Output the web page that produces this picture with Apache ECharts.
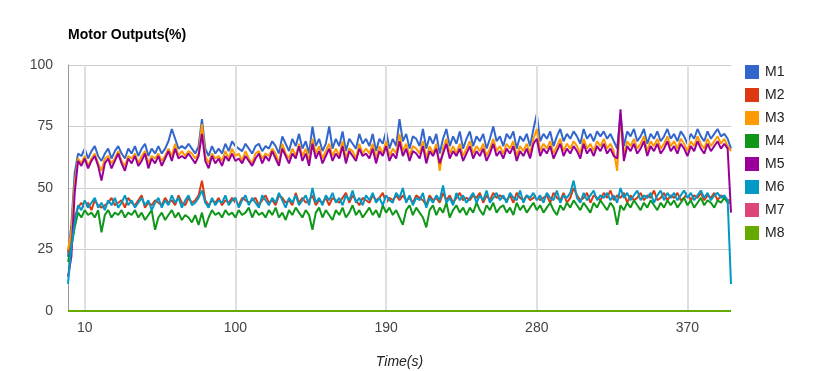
<!DOCTYPE html>
<html><head><meta charset="utf-8">
<script src="https://cdn.jsdelivr.net/npm/echarts@6/dist/echarts.min.js"></script>
<style>html,body{margin:0;padding:0;background:#fff}#c{width:826px;height:371px}</style>
</head><body><div id="c"></div>
<script>
const times = [0,2,4,6,8,10,12,14,16,18, 20,22,24,26,28,30,32,34,36,38, 40,42,44,46,48,50,52,54,56,58, 60,62,64,66,68,70,72,74,76,78, 80,82,84,86,88,90,92,94,96,98, 100,102,104,106,108,110,112,114,116,118, 120,122,124,126,128,130,132,134,136,138, 140,142,144,146,148,150,152,154,156,158, 160,162,164,166,168,170,172,174,176,178, 180,182,184,186,188,190,192,194,196,198, 200,202,204,206,208,210,212,214,216,218, 220,222,224,226,228,230,232,234,236,238, 240,242,244,246,248,250,252,254,256,258, 260,262,264,266,268,270,272,274,276,278, 280,282,284,286,288,290,292,294,296,298, 300,302,304,306,308,310,312,314,316,318, 320,322,324,326,328,330,332,334,336,338, 340,342,344,346,348,350,352,354,356,358, 360,362,364,366,368,370,372,374,376,378, 380,382,384,386,388,390,392,394,396];
const xTicks = [10,100,190,280,370];
const seriesNames = ['M1','M2','M3','M4','M5','M6','M7','M8'];
const M1 = [22,35,56,64,63,66,62,65,67,63, 61,64,66,62,65,67,64,62,66,64, 67,63,66,68,63,66,64,67,64,66, 69,74,70,66,67,66,68,66,64,67, 78,66,63,67,64,66,64,68,65,69, 67,66,65,68,66,64,67,68,65,67, 66,69,67,64,71,68,65,70,67,72, 66,69,64,75,67,70,65,68,75,66, 70,67,73,65,70,68,66,72,68,70, 67,72,65,70,68,73,66,70,67,78, 69,72,66,71,70,67,74,66,71,68, 72,64,70,74,67,71,68,73,66,70, 73,67,71,69,72,66,70,75,69,71, 67,72,70,73,66,71,69,72,67,74, 80,69,72,70,73,67,71,74,69,72, 70,73,71,68,74,70,72,69,73,71, 73,70,72,69,66,80,67,73,71,74, 69,71,74,68,72,70,73,69,71,74, 70,72,69,73,71,68,72,70,74,71, 69,73,70,72,74,71,72,70,66];
const M2 = [24,30,38,42,44,42,44,41,45,43, 42,43,44,46,43,44,45,42,46,44, 43,45,47,42,44,43,45,44,43,46, 44,45,43,47,44,43,46,44,45,47, 53,45,43,45,44,46,43,45,44,46, 44,43,46,45,44,45,46,43,45,47, 44,45,43,47,46,44,45,43,48,44, 46,44,45,47,43,45,44,46,43,46, 45,44,46,48,44,47,45,43,46,45, 44,47,45,46,48,44,46,45,47,45, 47,45,46,44,47,46,45,43,47,45, 46,44,48,45,47,44,46,48,45,46, 45,47,46,48,44,47,45,48,46,47, 46,45,47,44,48,46,45,47,45,46, 47,45,46,47,44,48,46,45,48,44, 46,50,47,45,46,48,44,47,46,45, 48,46,49,45,47,46,48,44,47,45, 46,48,45,47,46,49,45,46,48,45, 47,46,48,45,46,48,45,47,46,48, 45,47,46,48,45,47,46,45,45];
const M3 = [25,32,52,62,60,63,59,62,64,60, 57,62,63,60,62,65,61,59,63,62, 64,60,63,65,60,63,62,64,61,63, 66,63,68,63,65,63,65,64,62,64, 76,63,60,64,62,63,61,65,62,66, 63,64,61,65,62,60,64,65,62,64, 63,66,64,60,68,64,62,66,63,68, 63,66,61,70,64,67,62,65,68,63, 66,63,69,62,66,65,62,68,64,66, 64,68,62,67,64,69,63,66,64,72, 65,68,63,67,66,64,69,62,67,64, 68,57,66,70,64,67,64,68,63,66, 69,64,67,65,68,63,66,70,65,67, 64,68,66,69,63,67,65,68,64,70, 74,65,68,66,69,64,67,70,65,68, 66,69,67,64,70,66,68,65,69,67, 70,66,68,65,57,79,63,69,67,70, 66,68,71,65,69,67,70,66,68,71, 67,69,66,70,68,65,69,67,71,68, 66,70,67,69,71,68,70,67,65];
const M4 = [20,26,34,40,38,41,39,40,38,41, 32,39,41,38,40,39,41,38,40,39, 41,38,40,37,39,41,33,38,40,37, 39,41,38,40,37,39,38,36,39,35, 40,34,38,41,39,40,38,41,39,40, 38,41,39,40,42,38,41,39,40,38, 41,39,42,38,40,37,41,39,42,40, 38,41,39,33,40,42,38,41,39,37, 41,39,42,38,40,43,39,41,38,40, 42,39,41,38,43,40,42,39,41,38, 35,41,43,39,42,40,38,34,41,43, 39,42,40,44,38,41,43,40,42,39, 42,40,44,41,39,43,41,44,40,42, 43,40,42,39,44,41,43,40,42,44, 41,43,40,42,44,41,39,43,41,44, 42,45,43,41,44,42,40,44,42,45, 43,41,44,42,35,43,41,44,42,45, 43,41,44,42,45,43,41,44,42,45, 43,45,42,44,46,43,45,42,44,46, 43,45,44,42,45,44,46,44,44];
const M5 = [14,22,48,61,59,62,58,61,63,59, 53,60,62,58,61,64,60,57,62,60, 63,59,61,64,58,62,60,63,59,62, 65,61,66,62,63,62,64,62,60,63, 72,61,58,63,60,62,59,63,61,64, 61,62,60,63,61,59,62,64,60,63, 61,65,62,59,66,63,60,64,62,67, 61,64,59,68,62,65,60,63,66,61, 64,62,67,60,65,63,61,66,63,64, 62,66,60,65,63,67,61,64,62,69, 63,66,61,65,64,62,67,60,65,63, 66,60,64,68,62,65,63,66,61,64, 67,62,65,63,66,61,64,68,63,65, 62,66,64,67,61,65,63,66,62,68, 70,63,66,64,67,62,65,68,63,66, 64,67,65,62,68,64,66,63,67,65, 68,64,66,63,62,82,61,67,65,68, 64,66,69,63,67,65,68,64,66,69, 65,67,64,68,66,63,67,65,69,66, 64,68,65,67,69,66,68,66,40];
const M6 = [11,26,36,43,41,45,42,44,46,42, 44,41,45,43,46,42,44,47,43,45, 42,44,46,43,45,41,44,46,42,45, 43,47,44,46,42,45,47,43,44,46, 49,44,42,46,43,45,44,47,43,45, 46,42,45,47,43,46,44,42,47,45, 43,46,44,48,45,42,46,44,47,43, 45,47,43,50,44,46,43,47,45,48, 44,46,43,47,45,49,44,46,43,47, 45,48,44,46,43,47,45,44,48,46, 50,44,47,43,46,45,48,42,46,44, 47,45,51,44,46,43,48,45,47,44, 46,48,44,47,45,49,44,46,48,45, 47,44,48,46,45,49,44,47,46,48, 45,47,44,48,46,45,49,44,47,46, 48,53,46,44,48,45,47,49,45,47, 46,48,45,47,44,50,46,48,45,47, 49,45,47,46,48,44,47,49,45,48, 46,48,45,47,49,46,48,45,47,49, 46,48,45,47,48,46,47,45,11];
const flatTimes = [0,396];
const M7 = [0,0];
const M8 = [0,0];
const seriesValues = [M1,M2,M3,M4,M5,M6,M7,M8];
const seriesTimes = [times,times,times,times,times,times,flatTimes,flatTimes];
const colors = ['#3366cc','#dc3912','#ff9900','#109618','#990099','#0099c6','#dd4477','#66aa00'];

const font = '"Liberation Sans", Arial, sans-serif';
const chart = echarts.init(document.getElementById('c'), null, {renderer:'canvas'});
const series = seriesNames.map((n,i)=>({
  name:n, type:'line', symbol:'none', z:3+i,
  data: seriesTimes[i].map((t,k)=>[t, seriesValues[i][k]]),
  lineStyle:{width:2, color:colors[i]}, itemStyle:{color:colors[i]}
}));
series.unshift({
  name:'grid', type:'line', data:[], z:1, silent:true,
  markLine:{silent:true, symbol:['none','none'], label:{show:false},
    lineStyle:{color:'#e0e0e0', width:2, type:'solid'},
    data: xTicks.map(v=>({xAxis:v}))}
});
chart.setOption({
  animation:false,
  color: colors,
  textStyle:{fontFamily:font},
  title:{text:'Motor Outputs(%)', left:68, top:28, padding:0,
    textStyle:{fontFamily:font, fontSize:14, fontWeight:'bold', color:'#000'}},
  legend:{orient:'vertical', left:745, top:65, padding:0, itemWidth:14, itemHeight:14, itemGap:9,
    icon:'rect', data:seriesNames,
    textStyle:{fontFamily:font, fontSize:14, color:'#222', padding:[0,0,0,1]}},
  grid:{left:68, right:95, top:65, bottom:60, outerBoundsMode:'none', containLabel:false},
  xAxis:{type:'value', min:0, max:396,
    name:'Time(s)', nameLocation:'middle', nameGap:44,
    nameTextStyle:{fontFamily:font, fontSize:14, fontStyle:'italic', color:'#222'},
    axisLine:{show:false}, axisTick:{show:false}, splitLine:{show:false},
    axisLabel:{customValues:xTicks, color:'#444', fontSize:14, margin:10, fontFamily:font}},
  yAxis:{type:'value', min:0, max:100, interval:25,
    axisLine:{show:true, lineStyle:{color:'#999', width:1}}, axisTick:{show:false},
    splitLine:{show:true, lineStyle:{color:'#ccc', width:1}},
    axisLabel:{color:'#444', fontSize:14, margin:15, fontFamily:font}},
  series: series
});
</script></body></html>
